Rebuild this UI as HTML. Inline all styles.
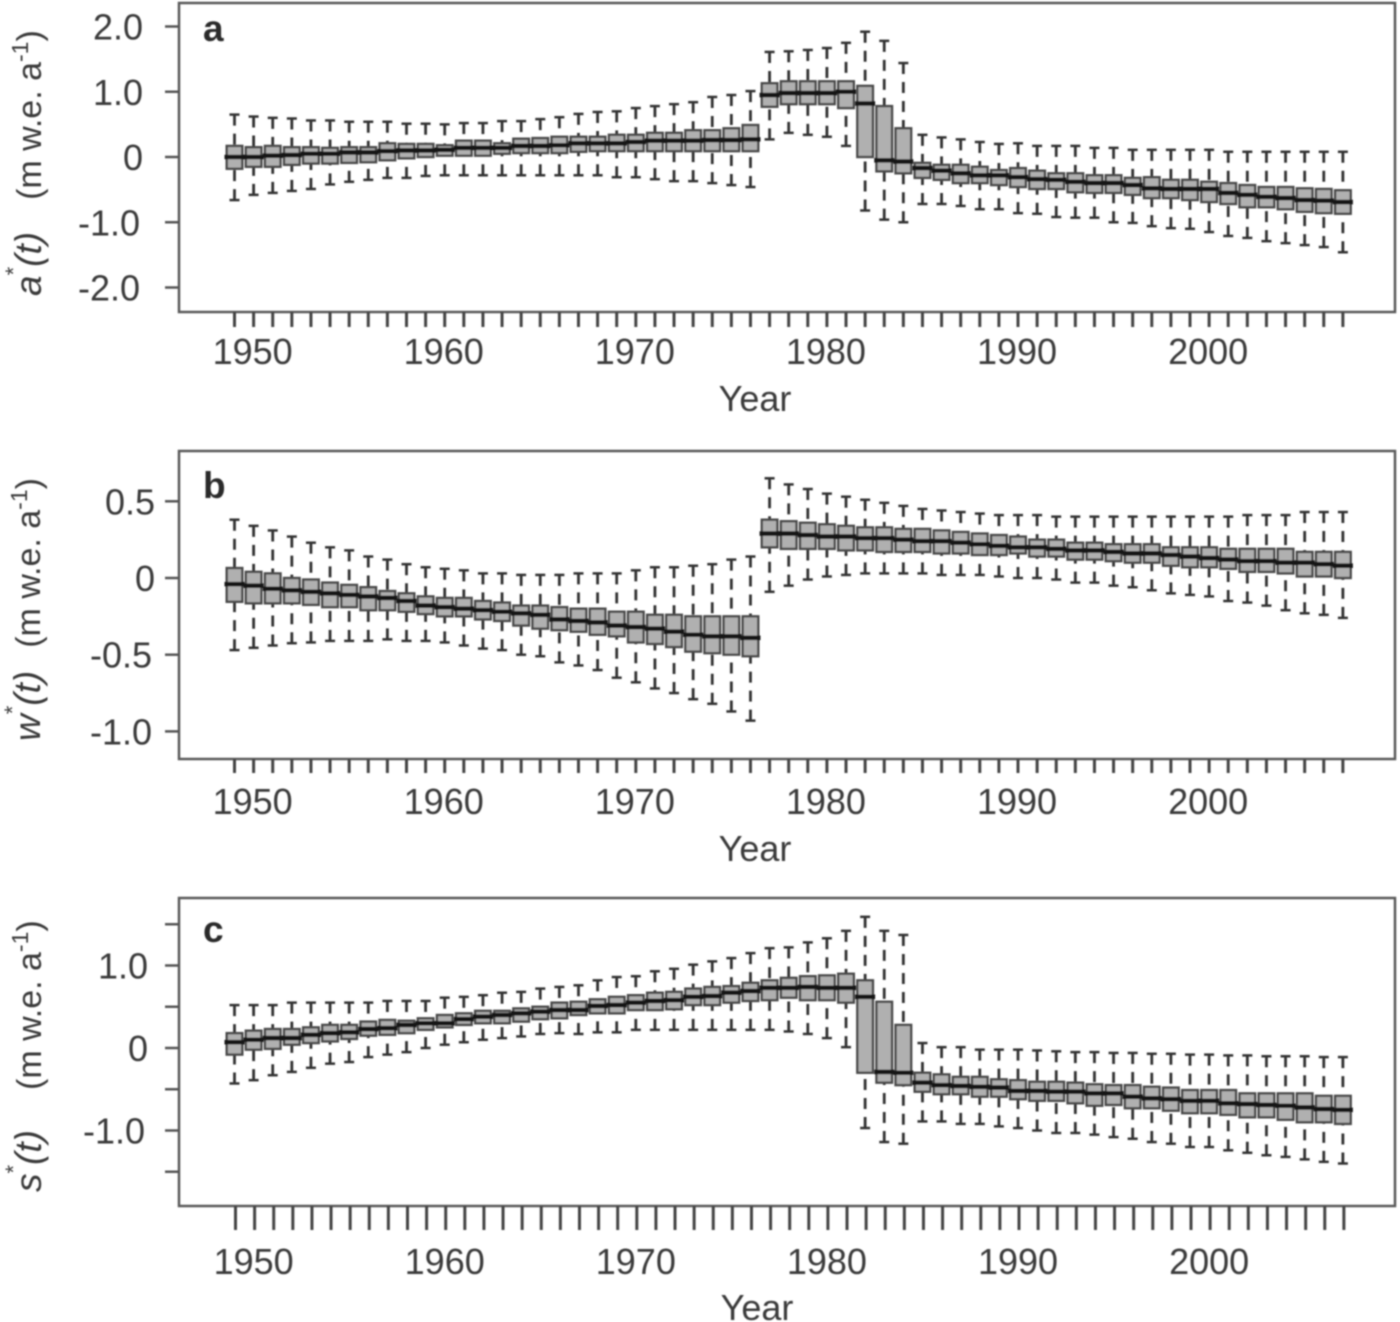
<!DOCTYPE html>
<html lang="en">
<head>
<meta charset="utf-8">
<title>Boxplots of a*(t), w*(t) and s*(t), 1949–2007</title>
<style>
html,body{margin:0;padding:0;background:#fff;}
#figure{display:block;width:1400px;height:1322px;}
text{font-family:"Liberation Sans",Arial,sans-serif;fill:#3a3a3a;}
</style>
</head>
<body>
<svg id="figure" xmlns="http://www.w3.org/2000/svg" width="1400" height="1322" viewBox="0 0 1400 1322">
<defs><filter id="soft" filterUnits="userSpaceOnUse" x="0" y="0" width="1400" height="1322"><feGaussianBlur stdDeviation="0.75"/></filter></defs>
<rect width="1400" height="1322" fill="#fff"/>
<g id="root" filter="url(#soft)">
<text transform="translate(41,296) rotate(-90)" font-size="37"><tspan font-style="italic">a</tspan><tspan font-size="22" dy="-20">*</tspan><tspan font-style="italic" dy="20">(t)</tspan><tspan font-size="34" dx="32">(m w.e. a</tspan><tspan font-size="23" dy="-13">-1</tspan><tspan font-size="34" dy="13">)</tspan></text>
<text transform="translate(40,741) rotate(-90)" font-size="37"><tspan font-style="italic">w</tspan><tspan font-size="22" dy="-20">*</tspan><tspan font-style="italic" dy="20">(t)</tspan><tspan font-size="34" dx="23">(m w.e. a</tspan><tspan font-size="23" dy="-13">-1</tspan><tspan font-size="34" dy="13">)</tspan></text>
<text transform="translate(41,1192) rotate(-90)" font-size="37"><tspan font-style="italic">s</tspan><tspan font-size="22" dy="-20">*</tspan><tspan font-style="italic" dy="20">(t)</tspan><tspan font-size="34" dx="40">(m w.e. a</tspan><tspan font-size="23" dy="-13">-1</tspan><tspan font-size="34" dy="13">)</tspan></text>
</g>
</svg>
<script>
const yearStart = 1949;
const yearCount = 59;
const xTickLabels = [1950, 1960, 1970, 1980, 1990, 2000];

const aTicks = [2, 1, 0, -1, -2];
const aTickLabels = ["2.0", "1.0", "0", "-1.0", "-2.0"];
const aHigh = [.65,.62,.60,.59,.56,.56,.54,.54,.54,.51,
  .51,.50,.52,.52,.55,.55,.58,.61,.66,.69,
  .70,.75,.78,.81,.84,.92,.95,1.01,
  1.61,1.62,1.64,1.67,1.75,1.92,1.78,1.44,
  .34,.30,.27,.23,.20,.21,.17,.17,.17,.14,
  .14,.11,.11,.11,.11,.11,.08,.08,.08,.08,
  .08,.08,.08];
const aQ3 = [.17,.15,.17,.15,.15,.14,.15,.15,.21,.20,
  .20,.18,.25,.25,.21,.28,.29,.31,.31,.31,
  .34,.34,.37,.37,.41,.41,.44,.49,
  1.13,1.16,1.16,1.16,1.16,1.09,.78,.44,
  -.09,-.12,-.12,-.15,-.20,-.17,-.21,-.25,-.25,-.28,
  -.28,-.32,-.31,-.35,-.35,-.38,-.40,-.43,-.46,-.46,
  -.48,-.49,-.51];
const aMedian = [0,0,.02,.03,.05,.05,.07,.07,.09,.10,
  .10,.11,.14,.14,.14,.17,.17,.18,.21,.21,
  .21,.23,.25,.25,.25,.26,.26,.27,
  .95,.98,.98,.98,1.0,.82,-.05,-.07,
  -.17,-.21,-.25,-.28,-.28,-.31,-.34,-.35,-.38,-.40,
  -.40,-.43,-.48,-.49,-.49,-.49,-.55,-.58,-.61,-.63,
  -.66,-.67,-.69];
const aQ1 = [-.18,-.15,-.15,-.12,-.10,-.10,-.09,-.08,-.05,-.02,
  0,.02,.02,.02,.05,.06,.06,.06,.08,.09,
  .09,.09,.09,.09,.09,.09,.09,.09,
  .77,.81,.81,.81,.75,0,-.22,-.25,
  -.32,-.35,-.40,-.40,-.43,-.46,-.49,-.49,-.54,-.55,
  -.55,-.58,-.63,-.63,-.66,-.69,-.72,-.77,-.77,-.80,
  -.84,-.86,-.87];
const aLow = [-.66,-.58,-.55,-.52,-.49,-.42,-.38,-.35,-.32,-.32,
  -.29,-.28,-.28,-.28,-.28,-.28,-.28,-.28,-.28,-.28,
  -.31,-.31,-.34,-.37,-.37,-.40,-.43,-.46,
  .27,.37,.34,.31,.17,-.82,-.96,-1.0,
  -.72,-.72,-.75,-.80,-.80,-.86,-.87,-.92,-.93,-.93,
  -1.0,-1.01,-1.06,-1.09,-1.10,-1.15,-1.21,-1.24,-1.29,-1.32,
  -1.35,-1.38,-1.46];

const bTicks = [.5, 0, -.5, -1];
const bTickLabels = ["0.5", "0", "-0.5", "-1.0"];
const bHigh = [.38,.34,.31,.27,.23,.20,.18,.14,.12,.09,
  .07,.06,.05,.03,.03,.02,.02,.02,.03,.03,
  .03,.05,.07,.07,.08,.09,.12,.14,
  .65,.61,.58,.55,.53,.51,.49,.47,
  .45,.44,.43,.42,.41,.41,.41,.40,.40,.40,
  .40,.40,.40,.40,.40,.40,.40,.41,.41,.41,
  .43,.43,.43];
const bQ3 = [.065,.04,.03,0,-.01,-.03,-.045,-.06,-.085,-.10,
  -.12,-.13,-.13,-.15,-.16,-.18,-.18,-.19,-.20,-.20,
  -.22,-.22,-.24,-.24,-.25,-.25,-.25,-.25,
  .38,.37,.36,.35,.34,.33,.33,.32,
  .32,.31,.30,.29,.28,.27,.25,.25,.23,.23,
  .22,.22,.22,.20,.20,.20,.19,.19,.19,.19,
  .17,.17,.17];
const bMedian = [-.04,-.05,-.07,-.08,-.09,-.10,-.11,-.12,-.13,-.15,
  -.18,-.19,-.20,-.21,-.22,-.23,-.24,-.27,-.28,-.29,
  -.31,-.32,-.33,-.35,-.37,-.38,-.38,-.39,
  .29,.29,.28,.27,.27,.26,.26,.25,
  .24,.24,.23,.22,.21,.20,.20,.19,.18,.18,
  .17,.16,.16,.15,.14,.13,.12,.11,.11,.10,
  .10,.09,.08];
const bQ1 = [-.155,-.165,-.165,-.165,-.175,-.19,-.19,-.21,-.21,-.22,
  -.235,-.25,-.25,-.27,-.28,-.31,-.33,-.34,-.35,-.37,
  -.38,-.42,-.43,-.45,-.48,-.49,-.50,-.51,
  .20,.19,.19,.19,.18,.18,.17,.17,
  .17,.16,.16,.15,.15,.16,.14,.14,.12,.12,
  .11,.10,.10,.08,.07,.07,.06,.04,.04,.03,
  .01,.01,0];
const bLow = [-.47,-.455,-.44,-.425,-.42,-.41,-.41,-.41,-.40,-.41,
  -.41,-.42,-.44,-.46,-.47,-.50,-.51,-.55,-.57,-.60,
  -.65,-.68,-.72,-.75,-.79,-.82,-.87,-.93,
  -.09,-.05,-.01,.01,.02,.03,.03,.03,
  .03,.02,.02,.02,.01,0,0,-.01,-.03,-.03,
  -.05,-.06,-.08,-.10,-.11,-.12,-.15,-.16,-.18,-.21,
  -.23,-.24,-.26];

const cTicks = [1.5, 1, .5, 0, -.5, -1, -1.5];
const cTickLabels = ["", "1.0", "", "0", "", "-1.0", ""];
const cHigh = [.52,.52,.52,.55,.55,.55,.55,.55,.57,.57,
  .57,.61,.62,.64,.67,.68,.72,.74,.76,.82,
  .86,.87,.93,.96,1.01,1.05,1.09,1.15,
  1.21,1.22,1.28,1.33,1.42,1.59,1.42,1.37,
  .06,.01,.01,-.02,-.02,-.02,-.03,-.04,-.05,-.05,
  -.06,-.06,-.07,-.07,-.08,-.08,-.09,-.09,-.10,-.10,
  -.10,-.11,-.11];
const cQ3 = [.18,.21,.23,.23,.25,.28,.28,.32,.34,.33,
  .36,.40,.42,.45,.45,.48,.50,.55,.56,.59,
  .62,.64,.67,.68,.72,.74,.75,.79,
  .82,.85,.87,.88,.90,.82,.56,.28,
  -.30,-.32,-.35,-.35,-.38,-.39,-.41,-.41,-.42,-.44,
  -.45,-.45,-.47,-.48,-.51,-.51,-.51,-.55,-.55,-.55,
  -.55,-.58,-.58];
const cMedian = [.07,.10,.12,.12,.16,.18,.19,.23,.24,.28,
  .30,.30,.35,.38,.40,.42,.44,.46,.46,.51,
  .52,.55,.57,.58,.62,.63,.67,.69,
  .73,.73,.74,.73,.73,.62,-.29,-.30,
  -.42,-.45,-.46,-.47,-.48,-.52,-.52,-.53,-.53,-.55,
  -.55,-.59,-.61,-.62,-.64,-.64,-.67,-.68,-.69,-.70,
  -.72,-.74,-.75];
const cQ1 = [-.08,-.02,-.01,.04,.06,.08,.11,.15,.16,.18,
  .22,.25,.28,.30,.30,.32,.35,.36,.40,.42,
  .42,.46,.46,.47,.52,.52,.55,.57,
  .58,.61,.58,.58,.55,-.30,-.42,-.45,
  -.53,-.56,-.56,-.59,-.59,-.62,-.64,-.64,-.67,-.70,
  -.69,-.73,-.73,-.76,-.79,-.79,-.81,-.84,-.84,-.87,
  -.90,-.90,-.92];
const cLow = [-.43,-.39,-.33,-.29,-.24,-.19,-.17,-.11,-.08,-.05,
  0,.04,.07,.10,.12,.14,.17,.18,.17,.19,
  .19,.22,.22,.22,.22,.22,.22,.22,
  .22,.20,.17,.12,.01,-.97,-1.14,-1.16,
  -.89,-.89,-.92,-.92,-.95,-.97,-1.0,-1.03,-1.03,-1.05,
  -1.08,-1.10,-1.14,-1.16,-1.20,-1.20,-1.24,-1.27,-1.30,-1.32,
  -1.35,-1.38,-1.40];

const NS = 'http://www.w3.org/2000/svg';
const root = document.getElementById('root');

function xScale(year) { return 234.5 + (year - yearStart) * 19.11; }

function make(tag, attrs, parent, content) {
  const el = document.createElementNS(NS, tag);
  for (const k in attrs) el.setAttribute(k, attrs[k]);
  if (content !== undefined) el.textContent = content;
  parent.appendChild(el);
  return el;
}

function drawPanel(p) {
  const y = v => p.yZero - v * p.yUnit;

  const group = make('g', {}, root);
  
  

  const frame = make('rect', { x: 179, y: p.top, width: 1216, height: p.bottom - p.top, fill: 'none', stroke: '#5a5a5a', 'stroke-width': 2.5 }, group);
  
  

  const letter = make('text', { x: 203, y: p.letterY, 'font-size': 37, 'font-weight': 'bold', style: 'fill:#2a2a2a' }, group, p.id);
  
  

  p.ticks.forEach((t, i) => {
    const tick = make('line', { x1: 165, x2: 179, y1: y(t), y2: y(t), stroke: '#555', 'stroke-width': 2.5 }, group);
    
    
    if (p.tickLabels[i]) {
      const offset = p.tickLabels[i][0] === '-' ? -3 : 0;
      const label = make('text', { x: p.labelRight + offset, y: y(t) + 13, 'font-size': 36, 'text-anchor': 'end' }, group, p.tickLabels[i]);
      
      
    }
  });

  for (let i = 0; i < yearCount; i++) {
    const cx = xScale(yearStart + i) + p.shift;
    const tick = make('line', { x1: cx, x2: cx, y1: p.bottom, y2: p.bottom + p.tickLen, stroke: '#444', 'stroke-width': 3 }, group);
    
    
  }

  xTickLabels.forEach(year => {
    const label = make('text', { x: xScale(year) - 1 + p.shift, y: p.labelY, 'font-size': 36, 'text-anchor': 'middle' }, group, String(year));
    
    
  });

  const title = make('text', { x: 755 + p.shift * 2, y: p.titleY, 'font-size': 36, 'text-anchor': 'middle' }, group, 'Year');
  
  

  for (let i = 0; i < yearCount; i++) {
    const cx = xScale(yearStart + i);
    const box = make('g', {}, group);
    
    
    make('line', { x1: cx, x2: cx, y1: y(p.high[i]), y2: y(p.q3[i]), stroke: '#333', 'stroke-width': 2.8, 'stroke-dasharray': '11 8' }, box);
    make('line', { x1: cx, x2: cx, y1: y(p.low[i]), y2: y(p.q1[i]), stroke: '#333', 'stroke-width': 2.8, 'stroke-dasharray': '11 8' }, box);
    make('line', { x1: cx - 5, x2: cx + 5, y1: y(p.high[i]), y2: y(p.high[i]), stroke: '#333', 'stroke-width': 2.5 }, box);
    make('line', { x1: cx - 5, x2: cx + 5, y1: y(p.low[i]), y2: y(p.low[i]), stroke: '#333', 'stroke-width': 2.5 }, box);
    make('rect', { x: cx - 7.8, width: 15.6, y: y(p.q3[i]), height: y(p.q1[i]) - y(p.q3[i]), fill: '#b0b0b0', stroke: '#484848', 'stroke-width': 2.4 }, box);
    make('line', { x1: cx - 10, x2: cx + 10, y1: y(p.median[i]), y2: y(p.median[i]), stroke: '#141414', 'stroke-width': 4.6 }, box);
  }
}

drawPanel({ id: 'a', top: 3, bottom: 312, yZero: 157, yUnit: 65.25, letterY: 41, labelRight: 143, tickLen: 15, labelY: 364, titleY: 411, shift: 0,
  ticks: aTicks, tickLabels: aTickLabels, high: aHigh, q3: aQ3, median: aMedian, q1: aQ1, low: aLow });
drawPanel({ id: 'b', top: 451, bottom: 759, yZero: 578, yUnit: 153.4, letterY: 498, labelRight: 155, tickLen: 14, labelY: 814, titleY: 861, shift: 0,
  ticks: bTicks, tickLabels: bTickLabels, high: bHigh, q3: bQ3, median: bMedian, q1: bQ1, low: bLow });
drawPanel({ id: 'c', top: 898, bottom: 1206, yZero: 1048, yUnit: 82.5, letterY: 942, labelRight: 148, tickLen: 24, labelY: 1274, titleY: 1320, shift: 1,
  ticks: cTicks, tickLabels: cTickLabels, high: cHigh, q3: cQ3, median: cMedian, q1: cQ1, low: cLow });
</script>
</body>
</html>
